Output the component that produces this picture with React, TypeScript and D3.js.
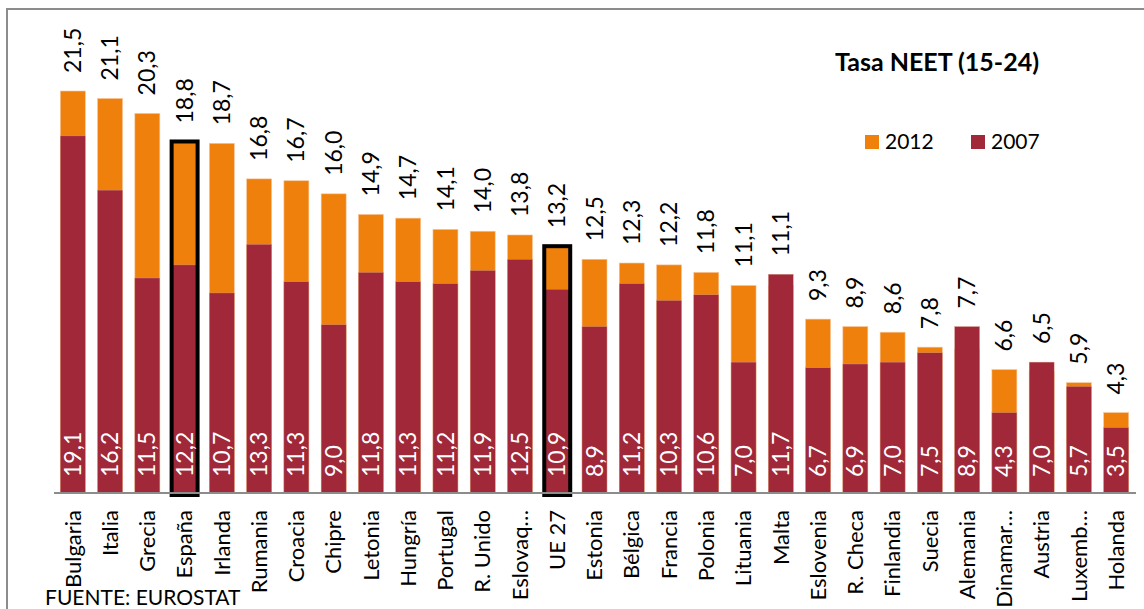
import * as d3 from "d3";

const countries = [
  "Bulgaria", "Italia", "Grecia", "España", "Irlanda", "Rumania", "Croacia", "Chipre",
  "Letonia", "Hungría", "Portugal", "R. Unido", "Eslovaq…", "UE 27", "Estonia", "Bélgica",
  "Francia", "Polonia", "Lituania", "Malta", "Eslovenia", "R. Checa", "Finlandia", "Suecia",
  "Alemania", "Dinamar…", "Austria", "Luxemb…", "Holanda",
];
const values2012 = [
  21.5, 21.1, 20.3, 18.8, 18.7, 16.8, 16.7, 16.0, 14.9, 14.7, 14.1, 14.0, 13.8, 13.2, 12.5,
  12.3, 12.2, 11.8, 11.1, 11.1, 9.3, 8.9, 8.6, 7.8, 7.7, 6.6, 6.5, 5.9, 4.3,
];
const values2007 = [
  19.1, 16.2, 11.5, 12.2, 10.7, 13.3, 11.3, 9.0, 11.8, 11.3, 11.2, 11.9, 12.5, 10.9, 8.9,
  11.2, 10.3, 10.6, 7.0, 11.7, 6.7, 6.9, 7.0, 7.5, 8.9, 4.3, 7.0, 5.7, 3.5,
];
const highlighted = ["España", "UE 27"];
const legendItems = ["2012", "2007"];

const W = 1144;
const H = 609;
const ORANGE = "#EF800B";
const RED = "#A02838";
const FONT = "Lato, 'Open Sans', sans-serif";

const fmt = (v: number) => v.toFixed(1).replace(".", ",");

export default function App() {
  const x = d3.scaleBand().domain(countries).range([54, 1135]).paddingInner(0.33).paddingOuter(0.17);
  const y = d3.scaleLinear().domain([0, 21.5]).range([493, 91]);
  const bw = x.bandwidth();
  const color = d3.scaleOrdinal<string, string>().domain(legendItems).range([ORANGE, RED]);

  return (
    <svg width={W} height={H} style={{ position: "absolute", left: 0, top: 0, background: "#fff" }} fontFamily={FONT}>
      <rect x={7} y={9} width={W + 20} height={H + 20} fill="#fff" stroke="#8c8c8c" strokeWidth={2} />

      {/* 2012 bars behind */}
      {countries.map((c, i) => (
        <rect key={"a" + c} x={x(c)} y={y(values2012[i])} width={bw} height={y(0) - y(values2012[i])} fill={ORANGE} stroke="#f7c59a" strokeWidth={0.6} />
      ))}
      {/* 2007 bars in front */}
      {countries.map((c, i) => (
        <rect key={"b" + c} x={x(c)} y={y(values2007[i])} width={bw} height={y(0) - y(values2007[i])} fill={RED} stroke="#d9a08a" strokeWidth={0.4} />
      ))}
      {/* highlight outlines */}
      {countries.map((c, i) =>
        highlighted.includes(c) ? (
          <rect key={"h" + c} x={(x(c) ?? 0) - 0.5} y={y(values2012[i])} width={bw + 1} height={y(0) - y(values2012[i]) + 2} fill="none" stroke="#000" strokeWidth={4} />
        ) : null
      )}

      <line x1={54} x2={1136} y1={y(0)} y2={y(0)} stroke="#8c8c8c" strokeWidth={2} />

      {/* value labels 2012, above the taller of the two bars */}
      {countries.map((c, i) => (
        <text key={"l12" + c} transform={`translate(${(x(c) ?? 0) + bw / 2},${y(Math.max(values2012[i], values2007[i])) - 18}) rotate(-90)`} dy="0.35em" fontSize={23} fill="#000">
          {fmt(values2012[i])}
        </text>
      ))}
      {/* value labels 2007 */}
      {countries.map((c, i) => (
        <text key={"l07" + c} transform={`translate(${(x(c) ?? 0) + bw / 2},${y(0) - 16}) rotate(-90)`} dy="0.35em" fontSize={23} fill="#fff">
          {fmt(values2007[i])}
        </text>
      ))}
      {/* category labels */}
      {countries.map((c) => (
        <text key={"c" + c} transform={`translate(${(x(c) ?? 0) + bw / 2},510) rotate(-90)`} dy="0.35em" textAnchor="end" fontSize={22} fill="#000">
          {c}
        </text>
      ))}

      <text x={835} y={71} fontSize={25} fontWeight="bold" fill="#000">Tasa NEET (15-24)</text>

      {legendItems.map((k, i) => (
        <g key={k} transform={`translate(${865 + i * 106},135)`}>
          <rect width={14} height={14} fill={color(k)} />
          <text x={20} y={14} fontSize={21} fill="#000">{k}</text>
        </g>
      ))}

      <text x={45} y={605} fontSize={21} fill="#000">FUENTE: EUROSTAT</text>
    </svg>
  );
}
